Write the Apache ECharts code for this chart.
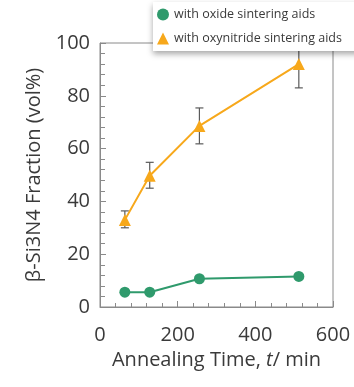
<!DOCTYPE html>
<html>
<head>
<meta charset="utf-8">
<script src="https://cdn.jsdelivr.net/npm/echarts@6/dist/echarts.min.js"></script>
<style>
  html, body { margin: 0; padding: 0; background: #fff; }
  #chart { width: 354px; height: 387px; }
</style>
</head>
<body>
<div id="chart"></div>
<script>
// annealing time (min)
var times = [64, 128, 256, 512]
// beta fraction, vol%
var oxideVals = [5.6, 5.6, 10.7, 11.6]
var oxynitrideVals = [33, 49.7, 68.6, 92]
// error bar ends for oxynitride
var errLow = [30, 45, 61.8, 83]
var errHigh = [36.4, 54.8, 75.4, 101]

var xTicks = [0, 200, 400, 600]
var yTicks = [0, 20, 40, 60, 80, 100]

var green = '#2f9a6c'
var orange = '#f7a81b'
var axisColor = '#8a8a8a'
var txtColor = '#3a3a3a'
var fontFam = '"Open Sans", Lato, sans-serif'

var chart = echarts.init(document.getElementById('chart'))

function pairs(xs, ys) {
  return xs.map(function (x, i) { return [x, ys[i]] })
}

var errData = times.map(function (t, i) { return [t, errLow[i], errHigh[i]] })

chart.setOption({
  animation: false,
  textStyle: { fontFamily: fontFam },
  grid: {
    left: 100,
    top: 43,
    right: 21,
    bottom: 80,
    show: true,
    borderColor: axisColor,
    borderWidth: 1
  },
  legend: {
    orient: 'vertical',
    left: 153,
    top: 2,
    padding: [6, 40, 6, 4],
    itemGap: 11,
    itemWidth: 12,
    itemHeight: 12,
    backgroundColor: '#fff',
    shadowBlur: 6,
    shadowColor: 'rgba(0,0,0,0.35)',
    shadowOffsetY: 3,
    textStyle: { color: txtColor, fontSize: 12.5, fontFamily: fontFam },
    data: [
      { name: 'with oxide sintering aids', icon: 'circle' },
      { name: 'with oxynitride sintering aids', icon: 'triangle' }
    ]
  },
  xAxis: {
    type: 'value',
    min: xTicks[0],
    max: xTicks[xTicks.length - 1],
    interval: 200,
    name: '{a|Annealing Time, }{i|t}{a|/ min}',
    nameLocation: 'middle',
    nameGap: 43,
    nameTextStyle: {
      rich: {
        a: { fontSize: 20, color: txtColor, fontFamily: fontFam },
        i: { fontSize: 20, color: txtColor, fontFamily: fontFam, fontStyle: 'italic' }
      }
    },
    axisLine: { lineStyle: { color: axisColor } },
    axisTick: { inside: true, length: 6, lineStyle: { color: axisColor } },
    minorTick: { show: true, splitNumber: 5, length: 4, lineStyle: { color: axisColor } },
    splitLine: { show: false },
    axisLabel: { fontSize: 20, color: txtColor, margin: 18 }
  },
  yAxis: {
    type: 'value',
    min: yTicks[0],
    max: yTicks[yTicks.length - 1],
    interval: 20,
    name: 'β-Si3N4 Fraction (vol%)',
    nameLocation: 'middle',
    nameGap: 49,
    nameTextStyle: { fontSize: 20, color: txtColor },
    axisLine: { show: true, lineStyle: { color: axisColor } },
    axisTick: { inside: true, length: 6, lineStyle: { color: axisColor } },
    minorTick: { show: true, splitNumber: 5, length: 5, lineStyle: { color: axisColor } },
    splitLine: { show: false },
    axisLabel: { fontSize: 20, color: txtColor, margin: 10 }
  },
  series: [
    {
      name: 'with oxide sintering aids',
      type: 'line',
      symbol: 'circle',
      symbolSize: 11,
      color: green,
      lineStyle: { width: 2 },
      data: pairs(times, oxideVals)
    },
    {
      type: 'custom',
      name: 'err',
      z: 1,
      renderItem: function (params, api) {
        var x = api.value(0)
        var lo = api.coord([x, api.value(1)])
        var hi = api.coord([x, api.value(2)])
        var cap = 4
        var st = { stroke: '#5a5a5a', lineWidth: 1.2 }
        return {
          type: 'group',
          children: [
            { type: 'line', shape: { x1: lo[0], y1: lo[1], x2: hi[0], y2: hi[1] }, style: st },
            { type: 'line', shape: { x1: lo[0] - cap, y1: lo[1], x2: lo[0] + cap, y2: lo[1] }, style: st },
            { type: 'line', shape: { x1: hi[0] - cap, y1: hi[1], x2: hi[0] + cap, y2: hi[1] }, style: st }
          ]
        }
      },
      encode: { x: 0, y: [1, 2] },
      data: errData
    },
    {
      name: 'with oxynitride sintering aids',
      type: 'line',
      symbol: 'triangle',
      symbolSize: 12,
      color: orange,
      z: 3,
      lineStyle: { width: 2 },
      data: pairs(times, oxynitrideVals)
    }
  ]
})
</script>
</body>
</html>
